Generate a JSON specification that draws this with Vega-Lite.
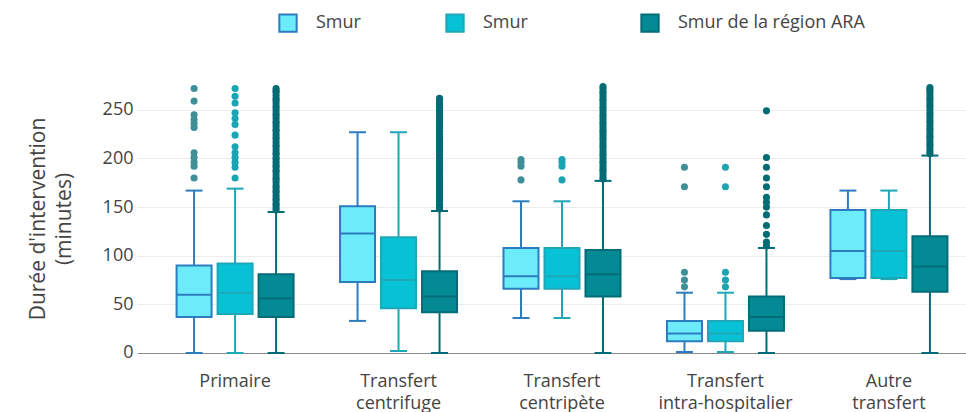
{
  "$schema": "https://vega.github.io/schema/vega-lite/v6.json",
  "width": 829,
  "height": 297,
  "autosize": "none",
  "padding": {"left": 137, "top": 70, "right": 0, "bottom": 45},
  "background": "white",
  "config": {"view": {"stroke": null}, "font": "Open Sans"},
  "datasets": {
    "boxes": [
      {"cat": "Primaire", "series": "s1", "lo": 0, "q1": 37, "med": 60, "q3": 90, "hi": 167},
      {"cat": "Primaire", "series": "s2", "lo": 0, "q1": 40, "med": 62, "q3": 92, "hi": 169},
      {"cat": "Primaire", "series": "s3", "lo": 0, "q1": 37, "med": 56, "q3": 81, "hi": 145},
      {"cat": "Transfert centrifuge", "series": "s1", "lo": 33, "q1": 73, "med": 123, "q3": 151, "hi": 227},
      {"cat": "Transfert centrifuge", "series": "s2", "lo": 2, "q1": 46, "med": 75, "q3": 119, "hi": 227},
      {"cat": "Transfert centrifuge", "series": "s3", "lo": 0, "q1": 42, "med": 58, "q3": 84, "hi": 146},
      {"cat": "Transfert centripète", "series": "s1", "lo": 36, "q1": 66, "med": 79, "q3": 108, "hi": 156},
      {"cat": "Transfert centripète", "series": "s2", "lo": 36, "q1": 66, "med": 79, "q3": 108, "hi": 156},
      {"cat": "Transfert centripète", "series": "s3", "lo": 0, "q1": 58, "med": 81, "q3": 106, "hi": 177},
      {"cat": "Transfert intra-hospitalier", "series": "s1", "lo": 1, "q1": 12, "med": 20, "q3": 33, "hi": 62},
      {"cat": "Transfert intra-hospitalier", "series": "s2", "lo": 1, "q1": 12, "med": 20, "q3": 33, "hi": 62},
      {"cat": "Transfert intra-hospitalier", "series": "s3", "lo": 0, "q1": 23, "med": 37, "q3": 58, "hi": 108},
      {"cat": "Autre transfert", "series": "s1", "lo": 76, "q1": 77, "med": 105, "q3": 147, "hi": 167},
      {"cat": "Autre transfert", "series": "s2", "lo": 76, "q1": 77, "med": 105, "q3": 147, "hi": 167},
      {"cat": "Autre transfert", "series": "s3", "lo": 0, "q1": 63, "med": 89, "q3": 120, "hi": 203}
    ],
    "outliers": [
      {"cat": "Primaire", "series": "s1", "v": 272}, {"cat": "Primaire", "series": "s1", "v": 259}, {"cat": "Primaire", "series": "s1", "v": 245}, {"cat": "Primaire", "series": "s1", "v": 240}, {"cat": "Primaire", "series": "s1", "v": 236}, {"cat": "Primaire", "series": "s1", "v": 232}, {"cat": "Primaire", "series": "s1", "v": 206}, {"cat": "Primaire", "series": "s1", "v": 201}, {"cat": "Primaire", "series": "s1", "v": 196}, {"cat": "Primaire", "series": "s1", "v": 192}, {"cat": "Primaire", "series": "s1", "v": 180},
      {"cat": "Primaire", "series": "s2", "v": 272}, {"cat": "Primaire", "series": "s2", "v": 264}, {"cat": "Primaire", "series": "s2", "v": 257}, {"cat": "Primaire", "series": "s2", "v": 247}, {"cat": "Primaire", "series": "s2", "v": 241}, {"cat": "Primaire", "series": "s2", "v": 235}, {"cat": "Primaire", "series": "s2", "v": 224}, {"cat": "Primaire", "series": "s2", "v": 212}, {"cat": "Primaire", "series": "s2", "v": 206}, {"cat": "Primaire", "series": "s2", "v": 201}, {"cat": "Primaire", "series": "s2", "v": 196}, {"cat": "Primaire", "series": "s2", "v": 191}, {"cat": "Primaire", "series": "s2", "v": 180},
      {"cat": "Primaire", "series": "s3", "v": 147}, {"cat": "Primaire", "series": "s3", "v": 149}, {"cat": "Primaire", "series": "s3", "v": 152}, {"cat": "Primaire", "series": "s3", "v": 154}, {"cat": "Primaire", "series": "s3", "v": 157}, {"cat": "Primaire", "series": "s3", "v": 159}, {"cat": "Primaire", "series": "s3", "v": 162}, {"cat": "Primaire", "series": "s3", "v": 165}, {"cat": "Primaire", "series": "s3", "v": 167}, {"cat": "Primaire", "series": "s3", "v": 170}, {"cat": "Primaire", "series": "s3", "v": 172}, {"cat": "Primaire", "series": "s3", "v": 175}, {"cat": "Primaire", "series": "s3", "v": 178}, {"cat": "Primaire", "series": "s3", "v": 180}, {"cat": "Primaire", "series": "s3", "v": 183}, {"cat": "Primaire", "series": "s3", "v": 186}, {"cat": "Primaire", "series": "s3", "v": 188}, {"cat": "Primaire", "series": "s3", "v": 191}, {"cat": "Primaire", "series": "s3", "v": 193}, {"cat": "Primaire", "series": "s3", "v": 196}, {"cat": "Primaire", "series": "s3", "v": 199}, {"cat": "Primaire", "series": "s3", "v": 201}, {"cat": "Primaire", "series": "s3", "v": 204}, {"cat": "Primaire", "series": "s3", "v": 206}, {"cat": "Primaire", "series": "s3", "v": 209}, {"cat": "Primaire", "series": "s3", "v": 212}, {"cat": "Primaire", "series": "s3", "v": 214}, {"cat": "Primaire", "series": "s3", "v": 217}, {"cat": "Primaire", "series": "s3", "v": 220}, {"cat": "Primaire", "series": "s3", "v": 222}, {"cat": "Primaire", "series": "s3", "v": 225}, {"cat": "Primaire", "series": "s3", "v": 228}, {"cat": "Primaire", "series": "s3", "v": 230}, {"cat": "Primaire", "series": "s3", "v": 233}, {"cat": "Primaire", "series": "s3", "v": 236}, {"cat": "Primaire", "series": "s3", "v": 238}, {"cat": "Primaire", "series": "s3", "v": 241}, {"cat": "Primaire", "series": "s3", "v": 244}, {"cat": "Primaire", "series": "s3", "v": 246}, {"cat": "Primaire", "series": "s3", "v": 249}, {"cat": "Primaire", "series": "s3", "v": 252}, {"cat": "Primaire", "series": "s3", "v": 254}, {"cat": "Primaire", "series": "s3", "v": 257}, {"cat": "Primaire", "series": "s3", "v": 260}, {"cat": "Primaire", "series": "s3", "v": 262}, {"cat": "Primaire", "series": "s3", "v": 265}, {"cat": "Primaire", "series": "s3", "v": 268}, {"cat": "Primaire", "series": "s3", "v": 270}, {"cat": "Primaire", "series": "s3", "v": 272},
      {"cat": "Transfert centrifuge", "series": "s3", "v": 148}, {"cat": "Transfert centrifuge", "series": "s3", "v": 150}, {"cat": "Transfert centrifuge", "series": "s3", "v": 153}, {"cat": "Transfert centrifuge", "series": "s3", "v": 156}, {"cat": "Transfert centrifuge", "series": "s3", "v": 158}, {"cat": "Transfert centrifuge", "series": "s3", "v": 161}, {"cat": "Transfert centrifuge", "series": "s3", "v": 164}, {"cat": "Transfert centrifuge", "series": "s3", "v": 166}, {"cat": "Transfert centrifuge", "series": "s3", "v": 169}, {"cat": "Transfert centrifuge", "series": "s3", "v": 172}, {"cat": "Transfert centrifuge", "series": "s3", "v": 174}, {"cat": "Transfert centrifuge", "series": "s3", "v": 177}, {"cat": "Transfert centrifuge", "series": "s3", "v": 180}, {"cat": "Transfert centrifuge", "series": "s3", "v": 182}, {"cat": "Transfert centrifuge", "series": "s3", "v": 185}, {"cat": "Transfert centrifuge", "series": "s3", "v": 188}, {"cat": "Transfert centrifuge", "series": "s3", "v": 190}, {"cat": "Transfert centrifuge", "series": "s3", "v": 193}, {"cat": "Transfert centrifuge", "series": "s3", "v": 196}, {"cat": "Transfert centrifuge", "series": "s3", "v": 198}, {"cat": "Transfert centrifuge", "series": "s3", "v": 201}, {"cat": "Transfert centrifuge", "series": "s3", "v": 204}, {"cat": "Transfert centrifuge", "series": "s3", "v": 207}, {"cat": "Transfert centrifuge", "series": "s3", "v": 209}, {"cat": "Transfert centrifuge", "series": "s3", "v": 212}, {"cat": "Transfert centrifuge", "series": "s3", "v": 215}, {"cat": "Transfert centrifuge", "series": "s3", "v": 217}, {"cat": "Transfert centrifuge", "series": "s3", "v": 220}, {"cat": "Transfert centrifuge", "series": "s3", "v": 223}, {"cat": "Transfert centrifuge", "series": "s3", "v": 225}, {"cat": "Transfert centrifuge", "series": "s3", "v": 228}, {"cat": "Transfert centrifuge", "series": "s3", "v": 231}, {"cat": "Transfert centrifuge", "series": "s3", "v": 233}, {"cat": "Transfert centrifuge", "series": "s3", "v": 236}, {"cat": "Transfert centrifuge", "series": "s3", "v": 239}, {"cat": "Transfert centrifuge", "series": "s3", "v": 241}, {"cat": "Transfert centrifuge", "series": "s3", "v": 244}, {"cat": "Transfert centrifuge", "series": "s3", "v": 247}, {"cat": "Transfert centrifuge", "series": "s3", "v": 249}, {"cat": "Transfert centrifuge", "series": "s3", "v": 252}, {"cat": "Transfert centrifuge", "series": "s3", "v": 255}, {"cat": "Transfert centrifuge", "series": "s3", "v": 257}, {"cat": "Transfert centrifuge", "series": "s3", "v": 260}, {"cat": "Transfert centrifuge", "series": "s3", "v": 262},
      {"cat": "Transfert centripète", "series": "s1", "v": 199}, {"cat": "Transfert centripète", "series": "s1", "v": 196}, {"cat": "Transfert centripète", "series": "s1", "v": 192}, {"cat": "Transfert centripète", "series": "s1", "v": 178},
      {"cat": "Transfert centripète", "series": "s2", "v": 199}, {"cat": "Transfert centripète", "series": "s2", "v": 196}, {"cat": "Transfert centripète", "series": "s2", "v": 192}, {"cat": "Transfert centripète", "series": "s2", "v": 178},
      {"cat": "Transfert centripète", "series": "s3", "v": 179}, {"cat": "Transfert centripète", "series": "s3", "v": 181}, {"cat": "Transfert centripète", "series": "s3", "v": 184}, {"cat": "Transfert centripète", "series": "s3", "v": 187}, {"cat": "Transfert centripète", "series": "s3", "v": 189}, {"cat": "Transfert centripète", "series": "s3", "v": 192}, {"cat": "Transfert centripète", "series": "s3", "v": 195}, {"cat": "Transfert centripète", "series": "s3", "v": 197}, {"cat": "Transfert centripète", "series": "s3", "v": 200}, {"cat": "Transfert centripète", "series": "s3", "v": 203}, {"cat": "Transfert centripète", "series": "s3", "v": 205}, {"cat": "Transfert centripète", "series": "s3", "v": 208}, {"cat": "Transfert centripète", "series": "s3", "v": 211}, {"cat": "Transfert centripète", "series": "s3", "v": 213}, {"cat": "Transfert centripète", "series": "s3", "v": 216}, {"cat": "Transfert centripète", "series": "s3", "v": 219}, {"cat": "Transfert centripète", "series": "s3", "v": 221}, {"cat": "Transfert centripète", "series": "s3", "v": 224}, {"cat": "Transfert centripète", "series": "s3", "v": 227}, {"cat": "Transfert centripète", "series": "s3", "v": 229}, {"cat": "Transfert centripète", "series": "s3", "v": 232}, {"cat": "Transfert centripète", "series": "s3", "v": 235}, {"cat": "Transfert centripète", "series": "s3", "v": 237}, {"cat": "Transfert centripète", "series": "s3", "v": 240}, {"cat": "Transfert centripète", "series": "s3", "v": 243}, {"cat": "Transfert centripète", "series": "s3", "v": 245}, {"cat": "Transfert centripète", "series": "s3", "v": 248}, {"cat": "Transfert centripète", "series": "s3", "v": 251}, {"cat": "Transfert centripète", "series": "s3", "v": 253}, {"cat": "Transfert centripète", "series": "s3", "v": 256}, {"cat": "Transfert centripète", "series": "s3", "v": 259}, {"cat": "Transfert centripète", "series": "s3", "v": 261}, {"cat": "Transfert centripète", "series": "s3", "v": 264}, {"cat": "Transfert centripète", "series": "s3", "v": 267}, {"cat": "Transfert centripète", "series": "s3", "v": 269}, {"cat": "Transfert centripète", "series": "s3", "v": 272}, {"cat": "Transfert centripète", "series": "s3", "v": 274},
      {"cat": "Transfert intra-hospitalier", "series": "s1", "v": 191}, {"cat": "Transfert intra-hospitalier", "series": "s1", "v": 171}, {"cat": "Transfert intra-hospitalier", "series": "s1", "v": 83}, {"cat": "Transfert intra-hospitalier", "series": "s1", "v": 75}, {"cat": "Transfert intra-hospitalier", "series": "s1", "v": 68},
      {"cat": "Transfert intra-hospitalier", "series": "s2", "v": 191}, {"cat": "Transfert intra-hospitalier", "series": "s2", "v": 171}, {"cat": "Transfert intra-hospitalier", "series": "s2", "v": 83}, {"cat": "Transfert intra-hospitalier", "series": "s2", "v": 75}, {"cat": "Transfert intra-hospitalier", "series": "s2", "v": 68},
      {"cat": "Transfert intra-hospitalier", "series": "s3", "v": 249}, {"cat": "Transfert intra-hospitalier", "series": "s3", "v": 201}, {"cat": "Transfert intra-hospitalier", "series": "s3", "v": 191}, {"cat": "Transfert intra-hospitalier", "series": "s3", "v": 180}, {"cat": "Transfert intra-hospitalier", "series": "s3", "v": 171}, {"cat": "Transfert intra-hospitalier", "series": "s3", "v": 160}, {"cat": "Transfert intra-hospitalier", "series": "s3", "v": 155}, {"cat": "Transfert intra-hospitalier", "series": "s3", "v": 150}, {"cat": "Transfert intra-hospitalier", "series": "s3", "v": 142}, {"cat": "Transfert intra-hospitalier", "series": "s3", "v": 131}, {"cat": "Transfert intra-hospitalier", "series": "s3", "v": 122}, {"cat": "Transfert intra-hospitalier", "series": "s3", "v": 114}, {"cat": "Transfert intra-hospitalier", "series": "s3", "v": 110},
      {"cat": "Autre transfert", "series": "s3", "v": 205}, {"cat": "Autre transfert", "series": "s3", "v": 207}, {"cat": "Autre transfert", "series": "s3", "v": 210}, {"cat": "Autre transfert", "series": "s3", "v": 213}, {"cat": "Autre transfert", "series": "s3", "v": 215}, {"cat": "Autre transfert", "series": "s3", "v": 218}, {"cat": "Autre transfert", "series": "s3", "v": 221}, {"cat": "Autre transfert", "series": "s3", "v": 223}, {"cat": "Autre transfert", "series": "s3", "v": 226}, {"cat": "Autre transfert", "series": "s3", "v": 229}, {"cat": "Autre transfert", "series": "s3", "v": 231}, {"cat": "Autre transfert", "series": "s3", "v": 234}, {"cat": "Autre transfert", "series": "s3", "v": 237}, {"cat": "Autre transfert", "series": "s3", "v": 239}, {"cat": "Autre transfert", "series": "s3", "v": 242}, {"cat": "Autre transfert", "series": "s3", "v": 245}, {"cat": "Autre transfert", "series": "s3", "v": 247}, {"cat": "Autre transfert", "series": "s3", "v": 250}, {"cat": "Autre transfert", "series": "s3", "v": 253}, {"cat": "Autre transfert", "series": "s3", "v": 255}, {"cat": "Autre transfert", "series": "s3", "v": 258}, {"cat": "Autre transfert", "series": "s3", "v": 261}, {"cat": "Autre transfert", "series": "s3", "v": 263}, {"cat": "Autre transfert", "series": "s3", "v": 266}, {"cat": "Autre transfert", "series": "s3", "v": 269}, {"cat": "Autre transfert", "series": "s3", "v": 271}, {"cat": "Autre transfert", "series": "s3", "v": 273}
    ]
  },
  "encoding": {
    "x": {
      "field": "cat", "type": "nominal",
      "scale": {"domain": ["Primaire", "Transfert centrifuge", "Transfert centripète", "Transfert intra-hospitalier", "Autre transfert"], "range": [0, 850], "paddingInner": 0, "paddingOuter": 0.1},
      "axis": {"title": null, "domain": false, "ticks": false, "grid": false, "labelAngle": 0, "labelExpr": "split(datum.label, ' ')", "labelFontSize": 18, "labelColor": "#444444", "labelPadding": 5, "labelLineHeight": 22, "labelFont": "Open Sans"}
    },
    "xOffset": {"field": "series", "type": "nominal", "scale": {"domain": ["s1", "s2", "s3"], "paddingInner": 0.146, "paddingOuter": 0.5665}}
  },
  "layer": [
    {
      "data": {"name": "boxes"},
      "mark": {"type": "rule", "strokeWidth": 2},
      "encoding": {
        "y": {"field": "lo", "type": "quantitative", "title": ["Durée d'intervention", "(minutes)"],
          "scale": {"domain": [-14.4, 291], "nice": false, "zero": false},
          "axis": {"domain": false, "ticks": false, "values": [0, 50, 100, 150, 200, 250], "labelFontSize": 18, "labelColor": "#444444", "labelPadding": 4, "labelFont": "Open Sans",
            "gridColor": {"condition": {"test": "datum.value === 0", "value": "#8a8a8a"}, "value": "#ececec"}, "gridWidth": 1,
            "titleFontSize": 21, "titleFontWeight": "normal", "titleColor": "#444444", "titleFont": "Open Sans", "titlePadding": 28, "titleLineHeight": 26}},
        "y2": {"field": "hi"},
        "stroke": {"field": "series", "type": "nominal", "scale": {"domain": ["s1", "s2", "s3"], "range": ["#2d7cbf", "#1ea7b7", "#036c76"]}}
      }
    },
    {
      "data": {"name": "boxes"},
      "mark": {"type": "bar", "strokeWidth": 2},
      "encoding": {
        "y": {"field": "q1", "type": "quantitative", "title": ["Durée d'intervention", "(minutes)"], "scale": {"domain": [-14.4, 291], "nice": false, "zero": false}},
        "y2": {"field": "q3"},
        "fill": {"field": "series", "type": "nominal", "scale": {"domain": ["s1", "s2", "s3"], "range": ["#6cecfb", "#07c2d6", "#038a94"]},
          "legend": {"orient": "none", "legendX": 141, "legendY": -57, "direction": "horizontal", "title": null, "symbolType": "square", "symbolSize": 300, "symbolStrokeWidth": 2, "labelFontSize": 18, "labelFont": "Open Sans", "labelColor": "#444444", "labelOffset": 18, "columnPadding": 10, "labelLimit": 500, "padding": 0,
            "labelExpr": "datum.value === 's1' ? 'Smur\u00a0\u00a0\u00a0\u00a0\u00a0\u00a0\u00a0\u00a0\u00a0\u00a0\u00a0\u00a0\u00a0\u00a0\u00a0\u200b' : datum.value === 's2' ? 'Smur\u00a0\u00a0\u00a0\u00a0\u00a0\u00a0\u00a0\u00a0\u00a0\u00a0\u00a0\u00a0\u00a0\u00a0\u00a0\u00a0\u00a0\u00a0\u00a0\u00a0\u00a0\u200b' : 'Smur de la région ARA'"}},
        "stroke": {"field": "series", "type": "nominal", "scale": {"domain": ["s1", "s2", "s3"], "range": ["#2d7cbf", "#1ea7b7", "#036c76"]},
          "legend": {"orient": "none", "legendX": 141, "legendY": -57, "direction": "horizontal", "title": null, "symbolType": "square", "symbolSize": 300, "symbolStrokeWidth": 2, "labelFontSize": 18, "labelFont": "Open Sans", "labelColor": "#444444", "labelOffset": 18, "columnPadding": 10, "labelLimit": 500, "padding": 0,
            "labelExpr": "datum.value === 's1' ? 'Smur\u00a0\u00a0\u00a0\u00a0\u00a0\u00a0\u00a0\u00a0\u00a0\u00a0\u00a0\u00a0\u00a0\u00a0\u00a0\u200b' : datum.value === 's2' ? 'Smur\u00a0\u00a0\u00a0\u00a0\u00a0\u00a0\u00a0\u00a0\u00a0\u00a0\u00a0\u00a0\u00a0\u00a0\u00a0\u00a0\u00a0\u00a0\u00a0\u00a0\u00a0\u200b' : 'Smur de la région ARA'"}}
      }
    },
    {
      "data": {"name": "boxes"},
      "mark": {"type": "tick", "thickness": 2, "size": 35, "opacity": 1},
      "encoding": {
        "y": {"field": "med", "type": "quantitative", "title": ["Durée d'intervention", "(minutes)"], "scale": {"domain": [-14.4, 291], "nice": false, "zero": false}},
        "color": {"field": "series", "type": "nominal", "scale": {"domain": ["s1", "s2", "s3"], "range": ["#2d7cbf", "#1ea7b7", "#036c76"]}, "legend": null}
      }
    },
    {
      "data": {"name": "boxes"},
      "mark": {"type": "tick", "thickness": 2, "size": 17, "opacity": 1},
      "encoding": {
        "y": {"field": "lo", "type": "quantitative", "title": ["Durée d'intervention", "(minutes)"], "scale": {"domain": [-14.4, 291], "nice": false, "zero": false}},
        "color": {"field": "series", "type": "nominal", "scale": {"domain": ["s1", "s2", "s3"], "range": ["#2d7cbf", "#1ea7b7", "#036c76"]}, "legend": null}
      }
    },
    {
      "data": {"name": "boxes"},
      "mark": {"type": "tick", "thickness": 2, "size": 17, "opacity": 1},
      "encoding": {
        "y": {"field": "hi", "type": "quantitative", "title": ["Durée d'intervention", "(minutes)"], "scale": {"domain": [-14.4, 291], "nice": false, "zero": false}},
        "color": {"field": "series", "type": "nominal", "scale": {"domain": ["s1", "s2", "s3"], "range": ["#2d7cbf", "#1ea7b7", "#036c76"]}, "legend": null}
      }
    },
    {
      "data": {"name": "outliers"},
      "mark": {"type": "circle", "size": 50, "opacity": 1},
      "encoding": {
        "y": {"field": "v", "type": "quantitative", "title": ["Durée d'intervention", "(minutes)"], "scale": {"domain": [-14.4, 291], "nice": false, "zero": false}},
        "color": {"field": "series", "type": "nominal", "scale": {"domain": ["s1", "s2", "s3"], "range": ["#3f8f98", "#1ba4b2", "#036b74"]}, "legend": null}
      }
    }
  ],
  "resolve": {"scale": {"color": "independent"}}
}
